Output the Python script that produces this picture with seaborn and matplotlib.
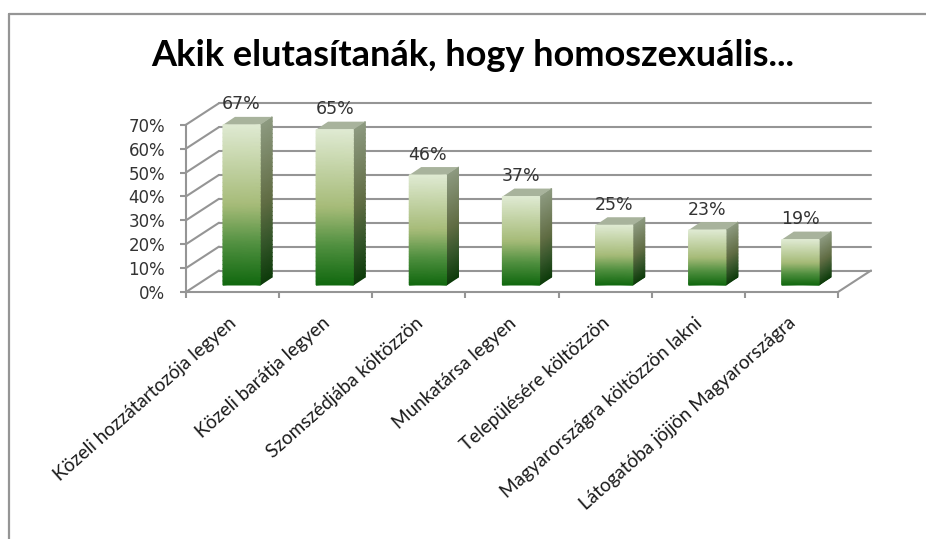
import numpy as np
import pandas as pd
import matplotlib
matplotlib.use("Agg")
import matplotlib.pyplot as plt
import seaborn as sns
from matplotlib.colors import LinearSegmentedColormap
from matplotlib.transforms import IdentityTransform, ScaledTranslation

categories = [
    "Közeli hozzátartozója legyen",
    "Közeli barátja legyen",
    "Szomszédjába költözzön",
    "Munkatársa legyen",
    "Településére költözzön",
    "Magyarországra költözzön lakni",
    "Látogatóba jöjjön Magyarországra",
]
values = [67, 65, 46, 37, 25, 23, 19]
y_ticks = [0, 10, 20, 30, 40, 50, 60, 70]
title = "Akik elutasítanák, hogy homoszexuális..."

W, H = 926, 539
DPI = 100
GRID = "#959595"
TEXT = "#333333"

sns.set_theme(style="white")
plt.rcParams["font.family"] = ["Lato", "DejaVu Sans"]

fig = plt.figure(figsize=(W / DPI, H / DPI), dpi=DPI)


def px_axes(left, top, right, bottom):
    return fig.add_axes([left / W, 1 - bottom / H, (right - left) / W, (bottom - top) / H])


# front wall has the ticks, bars sit a little further back
ax = px_axes(186, 124.7, 838, 292)
ax_bar = px_axes(195, 117.7, 847, 285)
for a in (ax, ax_bar):
    a.set_facecolor("none")

df = pd.DataFrame({"kategoria": categories, "ertek": values})
df["hely"] = df.index
sns.barplot(data=df, x="hely", y="ertek", native_scale=True, width=0.4, color="white", ax=ax_bar, zorder=3)
ax_bar.set_xlim(-0.5, 6.5)
ax_bar.set_ylim(0, 70)
ax_bar.axis("off")

ax.set_xlim(-0.5, 6.5)
ax.set_ylim(0, 70)
ax.set_xticks(np.arange(-0.5, 7, 1))
ax.set_xticklabels([])
ax.set_xticks(range(7), categories, minor=True, rotation=41.5, ha="right",
              rotation_mode="anchor", fontsize=13.6, color="#1a1a1a")
ax.tick_params(axis="x", which="minor", length=0, pad=16)
ax.tick_params(axis="x", which="major", length=4, width=1.5, color=GRID, bottom=True)
shift = ScaledTranslation(-4 / DPI, 0, fig.dpi_scale_trans)
for lab in ax.get_xticklabels(minor=True):
    lab.set_transform(lab.get_transform() + shift)
ax.set_yticks(y_ticks, [f"{t}%" for t in y_ticks], fontsize=12, color=TEXT, family="DejaVu Sans")
ax.tick_params(axis="y", length=4.3, width=1.5, color=GRID, left=True, pad=10.8)
for s in ["top", "right"]:
    ax.spines[s].set_visible(False)
for s in ["left", "bottom"]:
    ax.spines[s].set_color(GRID)
    ax.spines[s].set_linewidth(1.5)

# back wall gridlines and the floor / side wall diagonals
back = ax.transData + ScaledTranslation(33 / DPI, 21.5 / DPI, fig.dpi_scale_trans)
for t in y_ticks:
    ax.plot([-0.5, 6.5], [t, t], transform=back, color=GRID, lw=1.5, clip_on=False, zorder=1)
    x0, y0 = ax.transData.transform((-0.5, t))
    x1, y1 = back.transform((-0.5, t))
    ax.plot([x0, x1], [y0, y1], transform=IdentityTransform(), color=GRID, lw=1.5, clip_on=False, zorder=1)
x0, y0 = ax.transData.transform((6.5, 0))
x1, y1 = back.transform((6.5, 0))
ax.plot([x0, x1], [y0, y1], transform=IdentityTransform(), color=GRID, lw=1.5, clip_on=False, zorder=1)

front_cmap = LinearSegmentedColormap.from_list(
    "f", [(0, "#11680f"), (0.25, "#4f8f3f"), (0.5, "#a6bb78"), (1, "#dfead2")])
side_cmap = LinearSegmentedColormap.from_list(
    "s", [(0, "#0d3b0a"), (0.25, "#35562a"), (0.5, "#616d44"), (1, "#8d9a80")])

# depth of the 3d block in data units (12 px, 8 px)
dx = 12 / (652 / 7)
dy = 8 / (167.3 / 70)

for bar in ax_bar.patches:
    x = bar.get_x()
    w = bar.get_width()
    h = bar.get_height()
    bar.set_visible(False)
    ys = np.linspace(0, h, 40)
    shade = np.tile(np.linspace(0, 1, 40)[:, None], (1, 2))
    # front
    X, Y = np.meshgrid([x, x + w], ys)
    ax_bar.pcolormesh(X, Y, shade, cmap=front_cmap, shading="gouraud", zorder=5, clip_on=False)
    # side
    X2 = np.column_stack([np.full(40, x + w), np.full(40, x + w + dx)])
    Y2 = np.column_stack([ys, ys + dy])
    ax_bar.pcolormesh(X2, Y2, shade, cmap=side_cmap, shading="gouraud", zorder=4, clip_on=False)
    # top
    ax_bar.fill([x, x + w, x + w + dx, x + dx], [h, h, h + dy, h + dy], color="#a8b39c", lw=0, zorder=4, clip_on=False)
    ax_bar.annotate(f"{h:.0f}%", (x + w / 2, h), xytext=(0, 20.5 * 72 / DPI), textcoords="offset points",
                    ha="center", va="center", fontsize=12.5, color=TEXT, family="DejaVu Sans",
                    annotation_clip=False, zorder=6)

fig.text(473 / W, 1 - 56 / H, title, ha="center", va="center", fontsize=26, fontweight="bold", color="black")

# chart frame, only top and left show in the crop
fig.add_artist(plt.Line2D([9 / W, 9 / W], [0, 1 - 14 / H], color=GRID, lw=1.6))
fig.add_artist(plt.Line2D([9 / W, 1], [1 - 14 / H, 1 - 14 / H], color=GRID, lw=1.6))

fig.savefig("out.png", dpi=DPI)
